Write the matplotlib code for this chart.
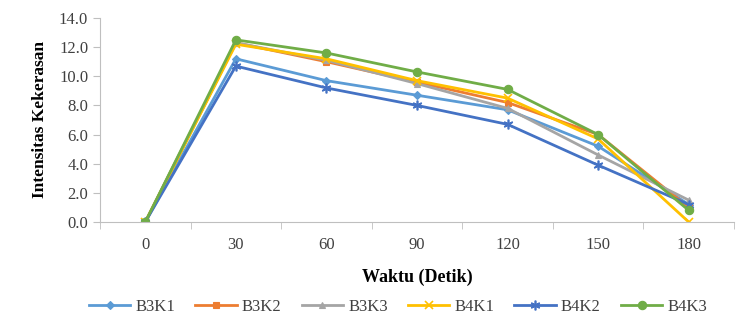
import matplotlib
matplotlib.use('Agg')
import matplotlib.pyplot as plt
import numpy as np

# data
waktu = ['0', '30', '60', '90', '120', '150', '180']
series_names = ['B3K1', 'B3K2', 'B3K3', 'B4K1', 'B4K2', 'B4K3']
b3k1 = [0.0, 11.2, 9.7, 8.7, 7.7, 5.2, 1.2]
b3k2 = [0.0, 12.3, 11.0, 9.6, 8.2, 6.0, 1.0]
b3k3 = [0.0, 12.3, 11.1, 9.5, 7.8, 4.6, 1.5]
b4k1 = [0.0, 12.2, 11.2, 9.7, 8.5, 5.7, 0.0]
b4k2 = [0.0, 10.7, 9.2, 8.0, 6.7, 3.9, 1.2]
b4k3 = [0.0, 12.5, 11.6, 10.3, 9.1, 6.0, 0.8]

warna = ['#5B9BD5', '#ED7D31', '#A5A5A5', '#FFC000', '#4472C4', '#70AD47']
marker = ['D', 's', '^', 'x', (6, 2, 0), 'o']
ukuran = [4, 5, 5, 6, 7, 6]

plt.rcParams['font.family'] = ['Liberation Serif', 'DejaVu Serif']

fig = plt.figure(figsize=(7.36, 3.25), dpi=100)
ax = fig.add_axes([100/736, 103/325, 634/736, 204/325])

x = np.arange(len(waktu))
semua = [b3k1, b3k2, b3k3, b4k1, b4k2, b4k3]
for nama, y, c, m, s in zip(series_names, semua, warna, marker, ukuran):
    garis_marker = m in ('x',) or isinstance(m, tuple)
    ax.plot(x, y, color=c, marker=m, markersize=s, linewidth=2, label=nama,
            markeredgewidth=1.2 if garis_marker else 0.8)

ax.set_xlim(-0.5, len(waktu) - 0.5)
ax.set_ylim(0, 14)
ax.set_yticks(np.arange(0, 14.1, 2))
ax.set_yticklabels([f'{v:.1f}' for v in np.arange(0, 14.1, 2)])
ax.set_xticks(x)
ax.set_xticklabels(waktu)
ax.set_xticks(np.arange(-0.5, len(waktu) - 0.4, 1), minor=True)
ax.tick_params(axis='x', which='major', length=0, labelsize=12, pad=11)
ax.tick_params(axis='x', which='minor', length=5, color='#BFBFBF', direction='out')
ax.tick_params(axis='y', length=5, color='#BFBFBF', labelsize=12, labelcolor='#404040')
ax.tick_params(axis='x', labelcolor='#404040')

for sp in ['top', 'right']:
    ax.spines[sp].set_visible(False)
for sp in ['left', 'bottom']:
    ax.spines[sp].set_color('#BFBFBF')

ax.set_xlabel('Waktu (Detik)', fontsize=13, fontweight='bold', labelpad=11)
ax.set_ylabel('Intensitas Kekerasan', fontsize=12.5, fontweight='bold', labelpad=8)

ax.legend(loc='upper center', bbox_to_anchor=(0.47, -0.305), ncol=6, frameon=False,
          fontsize=12, handlelength=2.5, columnspacing=1.2, handletextpad=0.3,
          labelcolor='#404040')

fig.savefig('out.png', dpi=100)
